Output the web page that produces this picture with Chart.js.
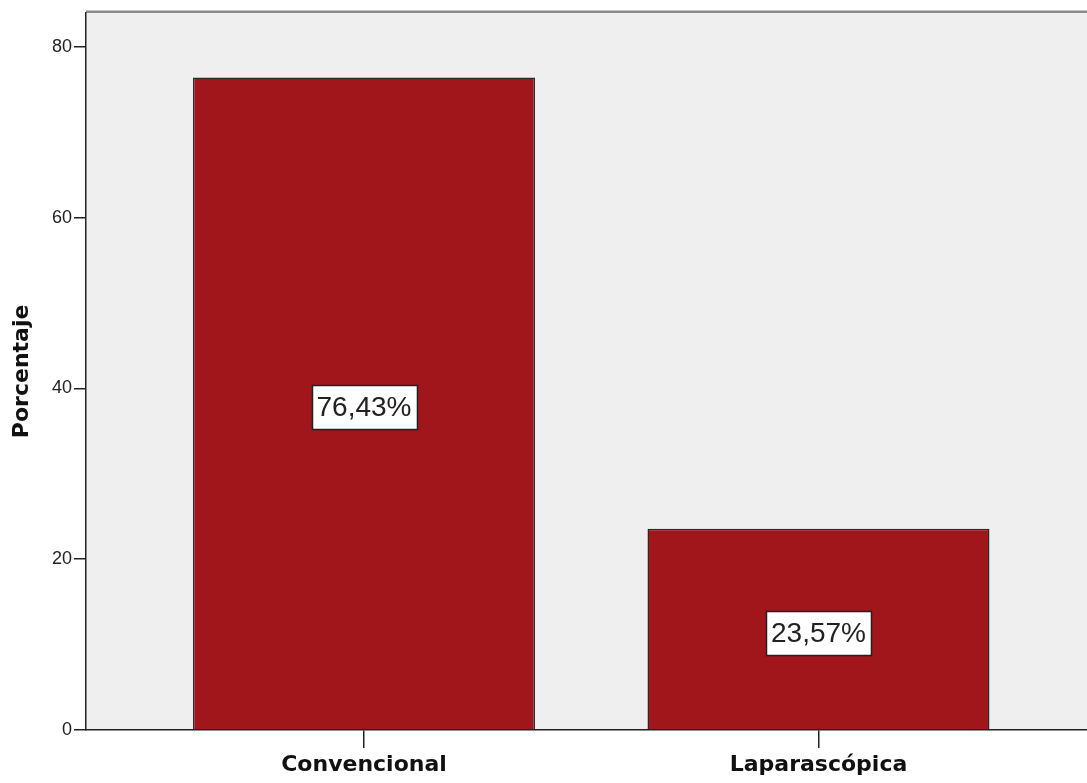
<!DOCTYPE html>
<html>
<head>
<meta charset="utf-8">
<script src="https://cdn.jsdelivr.net/npm/chart.js@4.4.1/dist/chart.umd.min.js"></script>
<style>
  body { margin: 0; background: #fff; }
  canvas { display: block; }
</style>
</head>
<body>
<canvas id="chart" width="1087" height="783"></canvas>
<script>
// data
const categories = ['Convencional', 'Laparascópica'];
const positions = [1, 2];
const percentages = [76.43, 23.57];
const percentLabels = ['76,43%', '23,57%'];
const yTicks = [0, 20, 40, 60, 80];

// plot background + grey top frame
const plotBg = {
  id: 'plotBg',
  beforeDraw(chart) {
    const { ctx, chartArea: a } = chart;
    ctx.save();
    ctx.fillStyle = '#efefef';
    ctx.fillRect(a.left, a.top, a.right - a.left, a.bottom - a.top);
    ctx.strokeStyle = '#8c8c8c';
    ctx.lineWidth = 2.5;
    ctx.beginPath();
    ctx.moveTo(a.left, a.top - 1);
    ctx.lineTo(a.right, a.top - 1);
    ctx.stroke();
    ctx.restore();
  }
};

// boxed value labels in the middle of each bar
const boxLabels = {
  id: 'boxLabels',
  afterDatasetsDraw(chart) {
    const ctx = chart.ctx;
    const meta = chart.getDatasetMeta(0);
    ctx.save();
    ctx.font = '28px "Liberation Sans", Arial, sans-serif';
    ctx.textAlign = 'center';
    ctx.textBaseline = 'middle';
    meta.data.forEach((bar, i) => {
      const txt = percentLabels[i];
      const cy = (bar.y + bar.base) / 2 + 4;
      const w = ctx.measureText(txt).width + 10;
      const h = 44;
      const x0 = Math.round(bar.x - w / 2) + 0.5;
      const y0 = Math.round(cy - h / 2) + 0.5;
      ctx.fillStyle = '#fff';
      ctx.fillRect(x0, y0, w, h);
      ctx.strokeStyle = '#222';
      ctx.lineWidth = 1.5;
      ctx.strokeRect(x0, y0, w, h);
      ctx.fillStyle = '#222';
      ctx.fillText(txt, bar.x, cy + 1);
    });
    ctx.restore();
  }
};

new Chart(document.getElementById('chart'), {
  type: 'bar',
  data: {
    datasets: [{
      data: positions.map((p, i) => ({ x: p, y: percentages[i] })),
      backgroundColor: '#a1161a',
      borderColor: '#2a2a2a',
      borderWidth: 1.5,
      barPercentage: 0.7525,
      categoryPercentage: 1
    }]
  },
  options: {
    responsive: false,
    animation: false,
    devicePixelRatio: 1,
    layout: { padding: { top: 12, right: 0, left: 0, bottom: 0 } },
    plugins: {
      legend: { display: false },
      tooltip: { enabled: false }
    },
    scales: {
      x: {
        type: 'linear',
        offset: false,
        min: 0.3883,
        max: 2.5908,
        afterBuildTicks(scale) {
          scale.ticks = positions.map(v => ({ value: v }));
        },
        afterFit(scale) { scale.height = 53; },
        grid: { offset: false, drawOnChartArea: false, drawTicks: true, tickLength: 18, color: '#222', lineWidth: 1.5 },
        border: { color: '#222', width: 1.5 },
        ticks: {
          padding: 4,
          color: '#111',
          font: { family: 'DejaVu Sans', size: 22, weight: 'bold' },
          callback: v => categories[positions.indexOf(v)] || ''
        }
      },
      y: {
        min: 0,
        max: 84.0,
        afterBuildTicks(scale) {
          scale.ticks = yTicks.map(v => ({ value: v }));
        },
        afterFit(scale) { scale.width = 86; },
        grid: { drawOnChartArea: false, drawTicks: true, tickLength: 12, color: '#222', lineWidth: 1.5 },
        border: { color: '#222', width: 1.5 },
        title: {
          display: true,
          text: 'Porcentaje',
          color: '#111',
          padding: { top: 9, bottom: 0 },
          font: { family: 'DejaVu Sans', size: 22, weight: 'bold' }
        },
        ticks: {
          padding: 2,
          color: '#222',
          font: { family: 'Liberation Sans', size: 18 }
        }
      }
    }
  },
  plugins: [plotBg, boxLabels]
});
</script>
</body>
</html>
